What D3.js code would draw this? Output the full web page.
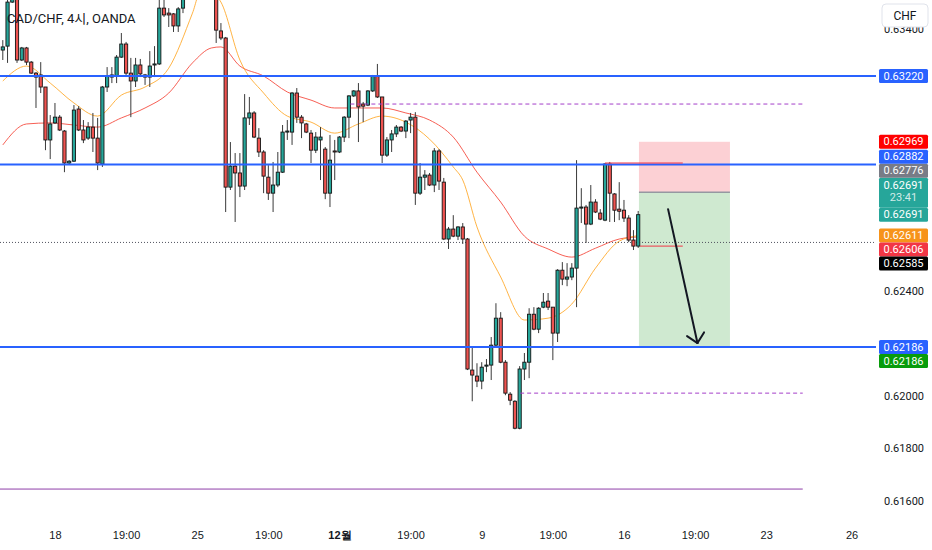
<!DOCTYPE html>
<html>
<head>
<meta charset="utf-8">
<script src="https://cdn.jsdelivr.net/npm/d3@7"></script>
<style>
html, body { margin: 0; padding: 0; background: #fff; overflow: hidden; }
svg { display: block; font-family: Roboto, "Noto Sans CJK KR", sans-serif; }
</style>
</head>
<body>
<div id="chart"></div>
<script>
// CAD/CHF 4h candles, [open, high, low, close]
const ohlc = [
[0.63319,0.63357,0.63281,0.63331],[0.63334,0.63548,0.63270,0.63502],[0.63502,0.63594,0.63499,0.63567],
[0.63567,0.63579,0.63270,0.63281],[0.63281,0.63331,0.63277,0.63327],[0.63327,0.63331,0.63262,0.63273],
[0.63273,0.63277,0.63228,0.63231],[0.63231,0.63235,0.63098,0.63216],[0.63224,0.63273,0.63155,0.63178],
[0.63178,0.63178,0.62937,0.62976],[0.62976,0.63071,0.62903,0.63037],[0.63041,0.63117,0.63037,0.63063],
[0.63063,0.63071,0.63010,0.63014],[0.63010,0.63014,0.62853,0.62888],[0.62888,0.62899,0.62884,0.62895],
[0.62895,0.63109,0.62892,0.63090],[0.63094,0.63105,0.63010,0.63014],[0.63014,0.63052,0.62964,0.62976],
[0.62983,0.63044,0.62976,0.63025],[0.63025,0.63079,0.62930,0.62983],[0.62983,0.63060,0.62861,0.62888],
[0.62884,0.63182,0.62873,0.63178],[0.63178,0.63254,0.63159,0.63220],[0.63216,0.63254,0.63193,0.63224],
[0.63220,0.63300,0.63193,0.63292],[0.63292,0.63384,0.63289,0.63342],[0.63342,0.63350,0.63216,0.63231],
[0.63231,0.63289,0.63063,0.63201],[0.63201,0.63289,0.63178,0.63262],[0.63262,0.63285,0.63216,0.63228],
[0.63224,0.63228,0.63186,0.63216],[0.63216,0.63315,0.63178,0.63258],[0.63262,0.63334,0.63216,0.63266],
[0.63266,0.63518,0.63262,0.63479],[0.63479,0.63510,0.63445,0.63453],[0.63460,0.63479,0.63407,0.63453],
[0.63457,0.63460,0.63388,0.63411],[0.63411,0.63483,0.63388,0.63476],[0.63479,0.63548,0.63460,0.63521],
[0.63521,0.63644,0.63514,0.63605],[0.63605,0.63663,0.63548,0.63567],[0.63567,0.63720,0.63556,0.63682],
[0.63682,0.63701,0.63586,0.63625],[0.63625,0.63655,0.63529,0.63548],[0.63556,0.63586,0.63514,0.63525],
[0.63525,0.63541,0.63346,0.63395],[0.63392,0.63422,0.63357,0.63365],[0.63365,0.63369,0.62701,0.62796],
[0.62796,0.62968,0.62785,0.62876],[0.62876,0.62926,0.62663,0.62850],[0.62850,0.62926,0.62758,0.62800],
[0.62800,0.63151,0.62785,0.63060],[0.63060,0.63140,0.63033,0.63079],[0.63079,0.63086,0.62983,0.62987],
[0.62983,0.63021,0.62911,0.62930],[0.62930,0.62937,0.62773,0.62838],[0.62834,0.62880,0.62747,0.62773],
[0.62773,0.62892,0.62701,0.62804],[0.62804,0.62930,0.62796,0.62853],[0.62853,0.63033,0.62850,0.63006],
[0.63006,0.63052,0.62976,0.63010],[0.63006,0.63159,0.62957,0.63155],[0.63155,0.63174,0.63041,0.63063],
[0.63063,0.63071,0.62983,0.63041],[0.63037,0.63041,0.63002,0.63006],[0.63002,0.63014,0.62888,0.62937],
[0.62937,0.63006,0.62926,0.62987],[0.62976,0.63025,0.62823,0.62987],[0.62941,0.62949,0.62750,0.62773],
[0.62773,0.62995,0.62720,0.62899],[0.62934,0.62976,0.62823,0.62930],[0.62930,0.62991,0.62926,0.62987],
[0.62987,0.63067,0.62968,0.63063],[0.63063,0.63147,0.62983,0.63144],[0.63144,0.63166,0.63140,0.63163],
[0.63163,0.63193,0.62968,0.63102],[0.63113,0.63121,0.63044,0.63105],[0.63109,0.63166,0.63105,0.63163],
[0.63163,0.63224,0.63159,0.63220],[0.63220,0.63266,0.63136,0.63140],[0.63140,0.63140,0.62888,0.62918],
[0.62918,0.62987,0.62911,0.62976],[0.62976,0.63014,0.62930,0.62999],[0.62999,0.63033,0.62987,0.63025],
[0.63025,0.63029,0.63006,0.63010],[0.63010,0.63052,0.62983,0.63048],[0.63052,0.63079,0.63002,0.63063],
[0.63063,0.63082,0.62728,0.62773],[0.62773,0.62888,0.62766,0.62834],[0.62834,0.62861,0.62785,0.62842],
[0.62842,0.62850,0.62800,0.62804],[0.62804,0.62945,0.62777,0.62934],[0.62934,0.62941,0.62785,0.62819],
[0.62815,0.62831,0.62594,0.62598],[0.62598,0.62644,0.62560,0.62636],[0.62636,0.62689,0.62605,0.62609],
[0.62609,0.62647,0.62594,0.62644],[0.62644,0.62659,0.62579,0.62598],[0.62598,0.62602,0.62098,0.62102],
[0.62098,0.62189,0.61979,0.62079],[0.62075,0.62124,0.62033,0.62056],[0.62056,0.62128,0.62025,0.62109],
[0.62113,0.62140,0.62090,0.62117],[0.62117,0.62224,0.62060,0.62193],[0.62193,0.62353,0.62186,0.62296],
[0.62296,0.62319,0.62124,0.62128],[0.62128,0.62136,0.62002,0.62010],[0.62006,0.62014,0.61964,0.61983],
[0.61979,0.61983,0.61872,0.61876],[0.61876,0.62113,0.61872,0.62102],[0.62102,0.62163,0.62060,0.62128],
[0.62128,0.62334,0.62067,0.62311],[0.62311,0.62338,0.62250,0.62254],[0.62254,0.62338,0.62239,0.62334],
[0.62338,0.62392,0.62334,0.62357],[0.62361,0.62392,0.62327,0.62338],[0.62338,0.62338,0.62136,0.62239],
[0.62239,0.62483,0.62205,0.62479],[0.62479,0.62510,0.62422,0.62445],[0.62445,0.62506,0.62418,0.62453],
[0.62453,0.62506,0.62441,0.62487],[0.62487,0.62899,0.62338,0.62716],[0.62716,0.62792,0.62659,0.62720],
[0.62720,0.62728,0.62583,0.62655],[0.62655,0.62804,0.62651,0.62739],[0.62739,0.62750,0.62697,0.62701],
[0.62697,0.62712,0.62670,0.62674],[0.62670,0.62888,0.62666,0.62884],[0.62884,0.62892,0.62663,0.62773],
[0.62770,0.62773,0.62663,0.62708],[0.62712,0.62815,0.62670,0.62704],[0.62708,0.62747,0.62663,0.62678],
[0.62678,0.62689,0.62586,0.62594],[0.62594,0.62632,0.62556,0.62571],[0.62571,0.62705,0.62564,0.62691]
];

// moving averages read at sample candles
const emaFastIdx = [0,5,10,15,20,25,30,35,40,42,44,46,50,55,60,65,70,75,80,85,90,95,97,100,105,110,115,120,125,130,134];
const emaFast = [0.63201,0.63258,0.63193,0.63117,0.63067,0.63147,0.63178,0.63250,0.63460,0.63556,0.63541,0.63502,0.63281,0.63155,0.63067,0.63044,0.63002,0.63037,0.63067,0.63044,0.62979,0.62873,0.62823,0.62644,0.62453,0.62289,0.62296,0.62350,0.62487,0.62590,0.62611];
const emaSlowIdx = [0,5,10,15,20,25,30,35,40,44,46,50,55,60,65,70,75,80,85,90,95,100,105,110,115,120,125,130,134];
const emaSlow = [0.62957,0.63037,0.63041,0.63033,0.63025,0.63060,0.63098,0.63155,0.63270,0.63327,0.63331,0.63258,0.63220,0.63159,0.63128,0.63098,0.63098,0.63098,0.63079,0.63052,0.62987,0.62853,0.62739,0.62609,0.62560,0.62529,0.62563,0.62598,0.62606];

// axes
const priceTicks = [0.616,0.618,0.620,0.622,0.624,0.626,0.628,0.630,0.632,0.634];
const timeTickIdx = [11,26,41,56,71,86,101,116,131,146,161,179];
const timeTickLabels = ["18","19:00","25","19:00","12월","19:00","9","19:00","16","19:00","23","26"];

// drawings (price levels and candle-index spans)
const keyLevels = [0.63220, 0.62882, 0.62186];
const dashedLevels = [[0.63113, 73.3, 168.7], [0.62010, 109.1, 168.7]];
const solidLevel = [0.61644, -1, 168.7];
const redSegments = [[0.62888, 127, 143.4], [0.62571, 134.4, 143.4]];
const lastLine = 0.62585;
const position = {from: 134.16, to: 153.35, stop: 0.62969, entry: 0.62776, target: 0.62186};
const arrowPts = [[140.3, 0.62712], [146.5, 0.62201]];

// right-scale badges, in placement priority order
const badgeValues = [0.63220, 0.62691, 0.62611, 0.62606, 0.62585, 0.62691, 0.62776, 0.62882, 0.62969, 0.62186, 0.62186];
const badgeColors = ["#2962ff","#26a69a","#f7931a","#f23645","#000000","#26a69a","#787b86","#2962ff","#ff0000","#2962ff","#089c0b"];
const badgeSub = [null,null,null,null,null,"23:41",null,null,null,null,null];
const badgeTie = [1,1,1,1,1,-1,1,1,1,1,1];

const W = 932, H = 550, plotW = 876, plotH = 520;
const x = d3.scaleLinear().domain([0, 134]).range([2.8, 638.2]);
const y = d3.scaleLinear().domain([0.62186, 0.63220]).range([347, 76]);

const svg = d3.select("#chart").append("svg").attr("width", W).attr("height", H);
svg.append("rect").attr("width", W).attr("height", H).attr("fill", "#fff");

svg.append("clipPath").attr("id", "plot")
  .append("rect").attr("width", plotW).attr("height", plotH);
const plot = svg.append("g").attr("clip-path", "url(#plot)");

// position tool
plot.append("rect")
  .attr("x", x(position.from)).attr("width", x(position.to) - x(position.from))
  .attr("y", y(position.stop)).attr("height", y(position.entry) - y(position.stop))
  .attr("fill", "rgba(242,54,69,0.23)");
plot.append("rect")
  .attr("x", x(position.from)).attr("width", x(position.to) - x(position.from))
  .attr("y", y(position.entry)).attr("height", y(position.target) - y(position.entry))
  .attr("fill", "rgba(76,175,80,0.27)");
plot.append("line")
  .attr("x1", x(position.from)).attr("x2", x(position.to))
  .attr("y1", y(position.entry)).attr("y2", y(position.entry))
  .attr("stroke", "#9598a1").attr("stroke-width", 1.5);

// moving averages
const maLine = d3.line().curve(d3.curveMonotoneX).x(d => x(d[0])).y(d => y(d[1]));
plot.append("path").datum(emaSlowIdx.map((i, k) => [i, emaSlow[k]]))
  .attr("d", maLine).attr("fill", "none").attr("stroke", "#f44336").attr("stroke-width", 1).attr("opacity", 0.85);
plot.append("path").datum(emaFastIdx.map((i, k) => [i, emaFast[k]]))
  .attr("d", maLine).attr("fill", "none").attr("stroke", "#ffa726").attr("stroke-width", 1).attr("opacity", 0.85);

// last price dotted line
plot.append("line").attr("x1", 0).attr("x2", plotW)
  .attr("y1", y(lastLine)).attr("y2", y(lastLine))
  .attr("stroke", "#50535e").attr("stroke-dasharray", "1,2");

// candles
const candle = plot.selectAll("g.candle").data(ohlc).join("g")
  .attr("class", "candle")
  .attr("transform", (d, i) => `translate(${x(i)},0)`);
candle.append("line")
  .attr("y1", d => y(d[1])).attr("y2", d => y(d[2]))
  .attr("stroke", "#3a3a3a").attr("stroke-width", 1);
candle.append("rect")
  .attr("x", -1.6).attr("width", 3.2)
  .attr("y", d => y(Math.max(d[0], d[3])))
  .attr("height", d => Math.max(1, Math.abs(y(d[0]) - y(d[3]))))
  .attr("fill", d => d[3] >= d[0] ? "#26a69a" : "#ef5350")
  .attr("stroke", "#141414").attr("stroke-width", 0.9);

// horizontal drawings
plot.selectAll("line.key").data(keyLevels).join("line")
  .attr("class", "key")
  .attr("x1", 0).attr("x2", plotW)
  .attr("y1", d => y(d)).attr("y2", d => y(d))
  .attr("stroke", "#2962ff").attr("stroke-width", 2);
plot.selectAll("line.dash").data(dashedLevels).join("line")
  .attr("class", "dash")
  .attr("x1", d => x(d[1])).attr("x2", d => x(d[2]))
  .attr("y1", d => y(d[0])).attr("y2", d => y(d[0]))
  .attr("stroke", "#a43fc9").attr("stroke-width", 1).attr("stroke-dasharray", "4,3");
plot.append("line")
  .attr("x1", x(solidLevel[1])).attr("x2", x(solidLevel[2]))
  .attr("y1", y(solidLevel[0])).attr("y2", y(solidLevel[0]))
  .attr("stroke", "#8e3fa8").attr("stroke-width", 1);
plot.selectAll("line.seg").data(redSegments).join("line")
  .attr("class", "seg")
  .attr("x1", d => x(d[1])).attr("x2", d => x(d[2]))
  .attr("y1", d => y(d[0])).attr("y2", d => y(d[0]))
  .attr("stroke", "#f23645").attr("stroke-width", 1);

// arrow
const [a0, a1] = arrowPts.map(p => [x(p[0]), y(p[1])]);
const ang = Math.atan2(a0[1] - a1[1], a0[0] - a1[0]);
const head = 12.5, spread = 44 * Math.PI / 180;
const arrow = plot.append("g").attr("stroke", "#131722").attr("stroke-width", 2).attr("stroke-linecap", "round");
arrow.append("line").attr("x1", a0[0]).attr("y1", a0[1]).attr("x2", a1[0]).attr("y2", a1[1]);
[-1, 1].forEach(s => arrow.append("line")
  .attr("x1", a1[0]).attr("y1", a1[1])
  .attr("x2", a1[0] + head * Math.cos(ang + s * spread))
  .attr("y2", a1[1] + head * Math.sin(ang + s * spread)));

// title
svg.append("text").attr("x", 7).attr("y", 23)
  .attr("font-size", 13).attr("fill", "#131722")
  .text("CAD/CHF, 4시, OANDA");

// badges with collision handling
const placed = [];
badgeValues.forEach((v, k) => {
  const h = badgeSub[k] ? 30 : 14;
  let top = y(v) - h / 2, dir = 0;
  for (let n = 0; n < 40; n++) {
    const hit = placed.find(p => top < p.top + p.h - 0.01 && top + h > p.top + 0.01);
    if (!hit) break;
    if (!dir) {
      const c = top + h / 2, pc = hit.top + hit.h / 2;
      dir = c < pc - 0.05 ? -1 : c > pc + 0.05 ? 1 : badgeTie[k];
    }
    top = dir < 0 ? hit.top - h : hit.top + hit.h;
  }
  placed.push({top, h, k, v});
});

// price axis, skipping ticks hidden under a badge
const freeTick = v => {
  const c = y(v);
  return !placed.some(p => c + 6 > p.top && c - 6 < p.top + p.h);
};
const yAxis = svg.append("g").attr("transform", `translate(${plotW},0)`)
  .call(d3.axisRight(y).tickValues(priceTicks.filter(freeTick)).tickFormat(d3.format(".5f")).tickSize(0));
yAxis.select(".domain").remove();
yAxis.selectAll("text").attr("x", 28).attr("text-anchor", "middle")
  .attr("font-size", 11).attr("fill", "#131722").attr("font-family", "Roboto");

// time axis
const xAxis = svg.append("g").attr("transform", `translate(0,${plotH})`)
  .call(d3.axisBottom(x).tickValues(timeTickIdx).tickSize(0).tickPadding(11)
    .tickFormat((d, i) => timeTickLabels[i]));
xAxis.select(".domain").remove();
xAxis.selectAll("text").attr("font-size", 11).attr("fill", "#131722")
  .attr("font-weight", (d, i) => timeTickLabels[i].includes("월") ? "bold" : null);

// currency button (sits over the top tick, as in the terminal)
svg.append("rect").attr("x", 882).attr("y", 4).attr("width", 46).attr("height", 23).attr("rx", 4)
  .attr("fill", "#fff").attr("stroke", "#e0e3eb");
svg.append("text").attr("x", 905).attr("y", 16).attr("text-anchor", "middle")
  .attr("dominant-baseline", "central").attr("font-size", 12).attr("fill", "#131722").text("CHF");

const badge = svg.selectAll("g.badge").data(placed).join("g").attr("class", "badge")
  .attr("transform", d => `translate(879,${d.top})`);
badge.append("rect").attr("width", 49).attr("height", d => d.h).attr("rx", 1.5)
  .attr("fill", d => badgeColors[d.k]);
badge.append("text").attr("x", 24.5).attr("y", d => badgeSub[d.k] ? 8 : 7)
  .attr("text-anchor", "middle").attr("dominant-baseline", "central")
  .attr("font-size", 11).attr("fill", "#fff").text(d => d3.format(".5f")(d.v));
badge.filter(d => badgeSub[d.k]).append("text").attr("x", 24.5).attr("y", 20)
  .attr("text-anchor", "middle").attr("dominant-baseline", "central")
  .attr("font-size", 11).attr("fill", "rgba(255,255,255,0.8)").text(d => badgeSub[d.k]);
</script>
</body>
</html>
